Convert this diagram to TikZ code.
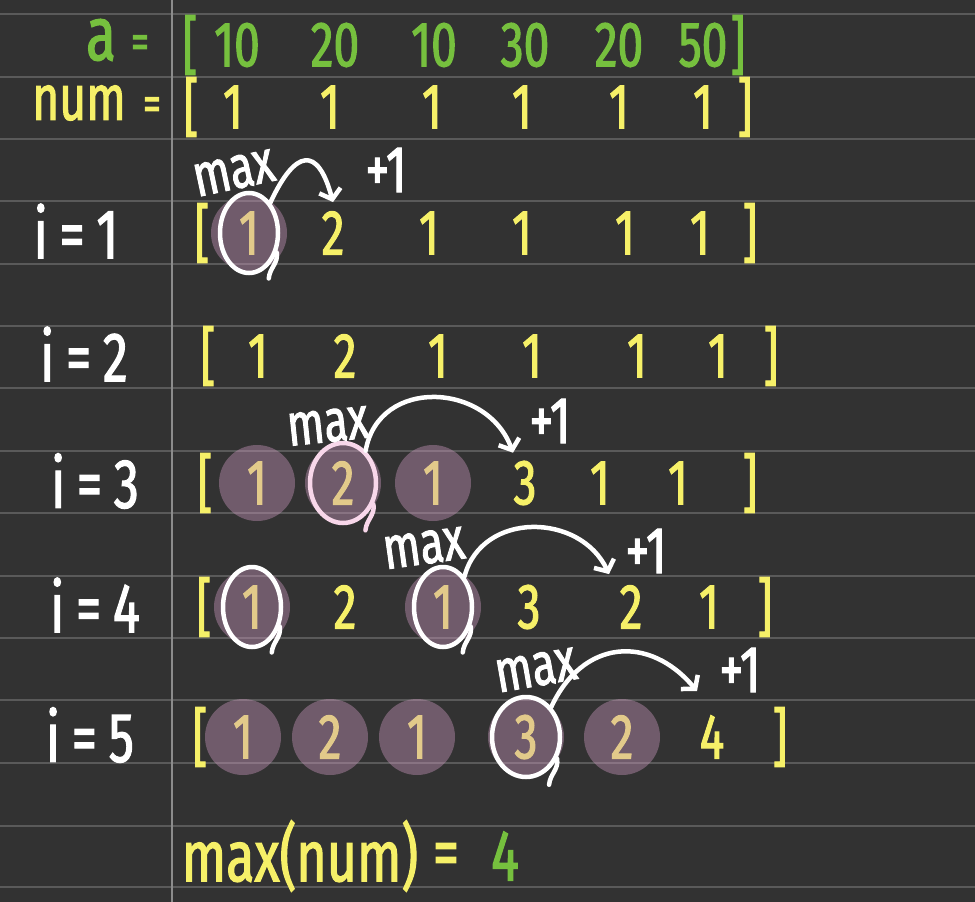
\documentclass[tikz,border=0pt]{standalone}
\usepackage{fontspec}
\setmainfont{Fira Sans}[FakeStretch=0.72, FakeBold=1.6]
\usetikzlibrary{
    arrows.meta,
    positioning,
    shapes.geometric
}
\definecolor{PadGray}{RGB}{50,50,50}
\definecolor{RuleGray}{RGB}{90,90,90}
\definecolor{MarginGray}{RGB}{140,140,140}
\definecolor{InkGreen}{RGB}{118,192,62}
\definecolor{InkYellow}{RGB}{246,240,104}
\definecolor{HiliteMauve}{RGB}{200,150,187}
\definecolor{RingPink}{RGB}{248,215,234}

\begin{document}
\begin{tikzpicture}[
    x=1pt, y=1pt,
    >={Straight Barb[length=9pt,width=22pt]},
    ink/.style={inner sep=0pt, font=\fontsize{64}{64}\selectfont},
    val/.style={ink, text=InkYellow},
    given/.style={ink, text=InkGreen},
    lbl/.style={ink, text=white, font=\fontsize{70}{70}\selectfont},
    note/.style={inner sep=0pt, text=white, font=\fontsize{60}{60}\selectfont},
    hilite/.style={circle, minimum size=76pt, fill=HiliteMauve, fill opacity=0.42},
    ring/.style={ellipse, draw=white, line width=4.5pt, minimum width=58pt,
        minimum height=80pt, inner sep=0pt},
    hand/.style={draw=white, line width=4.5pt, line cap=round},
    tail/.style={hand, to path={to[out=-80,in=85] ++(-8,-26)}}
]

% notebook page
\fill[PadGray] (0,0) rectangle (975,-902);
\useasboundingbox (0,0) rectangle (975,-902);
\foreach \y in {14,77,139,201,264,326,388,451,513,576,638,700,763,826,887}
    \draw[RuleGray, line width=2.2pt] (0,-\y) -- (975,-\y);
\draw[MarginGray, line width=2pt] (172,0) -- (172,-902);

% input array
\node[given, font=\fontsize{76}{76}\selectfont] (aname) at (101,-40) {a};
\node[given, font=\fontsize{50}{50}\selectfont] (aeq) at (140,-47) {=};
\node[given] (aopen) at (190,-45) {[};
\foreach \x/\v [count=\k] in {237/10,335/20,434/10,525/30,619/20,703/50}
    \node[given] (a-\k) at (\x,-45) {\v};
\node[given] (aclose) at (738,-45) {]};

% num, start
\node[val] (numname) at (79,-103) {num};
\node[val, font=\fontsize{50}{50}\selectfont] (numeq) at (152,-109) {=};
\node[val] (open0) at (191,-107) {[};
\foreach \x [count=\k] in {233,330,432,522,619,703}
    \node[val] (s0-\k) at (\x,-107) {1};
\node[val] (close0) at (745,-107) {]};

% i = 1
\node[lbl] (i1) at (76,-231) {i\,=\,1};
\node[val] (open1) at (202,-233) {[};
\foreach \x/\v [count=\k] in {249/1,333/2,429/1,522/1,625/1,700/1}
    \node[val] (s1-\k) at (\x,-233) {\v};
\node[val] (close1) at (750,-233) {]};

% i = 2
\node[lbl] (i2) at (84,-354) {i\,=\,2};
\node[val] (open2) at (208,-356) {[};
\foreach \x/\v [count=\k] in {258/1,345/2,438/1,532/1,637/1,718/1}
    \node[val] (s2-\k) at (\x,-356) {\v};
\node[val] (close2) at (771,-356) {]};

% i = 3
\node[lbl] (i3) at (95,-481) {i\,=\,3};
\node[val] (open3) at (205,-483) {[};
\foreach \x/\v [count=\k] in {257/1,343/2,433/1,525/3,600/1,678/1}
    \node[val] (s3-\k) at (\x,-483) {\v};
\node[val] (close3) at (750,-483) {]};

% i = 4
\node[lbl] (i4) at (95,-605) {i\,=\,4};
\node[val] (open4) at (204,-607) {[};
\foreach \x/\v [count=\k] in {252/1,345/2,443/1,529/3,631/2,709/1}
    \node[val] (s4-\k) at (\x,-607) {\v};
\node[val] (close4) at (765,-607) {]};

% i = 5
\node[lbl] (i5) at (90,-735) {i\,=\,5};
\node[val] (open5) at (200,-737) {[};
\foreach \x/\v [count=\k] in {243/1,330/2,417/1,526/3,622/2,712/4}
    \node[val] (s5-\k) at (\x,-737) {\v};
\node[val] (close5) at (780,-737) {]};

% result
\node[val, font=\fontsize{72}{72}\selectfont] (maxnum) at (300,-856) {max(num)};
\node[val, font=\fontsize{72}{72}\selectfont] (eqres) at (446,-860) {=};
\node[given, font=\fontsize{72}{72}\selectfont] (answer) at (505,-856) {4};

% smaller j already seen
\foreach \n in {s1-1,s3-1,s3-2,s3-3,s4-1,s4-3,s5-1,s5-2,s5-3,s5-4,s5-5}
    \node[hilite] at (\n) {};

% i = 1: max, then +1
\node[ring] (ring1) at (s1-1) {};
\draw[tail] (ring1.-35) to ();
\node[note, rotate=12] (max1) at (234,-173) {max};
\node[note, font=\fontsize{66}{66}\selectfont] (plus1) at (386,-170) {+1};
\draw[hand, ->] (ring1.55) to[out=65, in=105, looseness=2.4] ([yshift=9pt]s1-2.north);

% i = 3
\node[ring, draw=RingPink, minimum width=66pt] (ring3) at (s3-2) {};
\draw[tail, draw=RingPink] (ring3.-35) to ();
\node[note, rotate=6] (max3) at (328,-426) {max};
\node[note, font=\fontsize{66}{66}\selectfont] (plus3) at (550,-421) {+1};
\draw[hand, ->] (ring3.55) to[out=80, in=110, looseness=1.3] ([xshift=-12pt, yshift=8pt]s3-4.north);

% i = 4
\node[ring] (ring4a) at (s4-1) {};
\draw[tail] (ring4a.-35) to ();
\node[ring] (ring4) at (s4-3) {};
\draw[tail] (ring4.-35) to ();
\node[note, rotate=8] (max4) at (424,-548) {max};
\node[note, font=\fontsize{66}{66}\selectfont] (plus4) at (646,-551) {+1};
\draw[hand, ->] (ring4.55) to[out=75, in=115, looseness=1.2] ([xshift=-22pt, yshift=11pt]s4-5.north);

% i = 5
\node[ring, minimum width=68pt] (ring5) at (s5-4) {};
\draw[tail] (ring5.-35) to ();
\node[note, rotate=10] (max5) at (536,-670) {max};
\node[note, font=\fontsize{66}{66}\selectfont] (plus5) at (740,-670) {+1};
\draw[hand, ->] (ring5.50) to[out=65, in=130, looseness=1.3] ([xshift=-15pt, yshift=24pt]s5-6.north);

\end{tikzpicture}
\end{document}
